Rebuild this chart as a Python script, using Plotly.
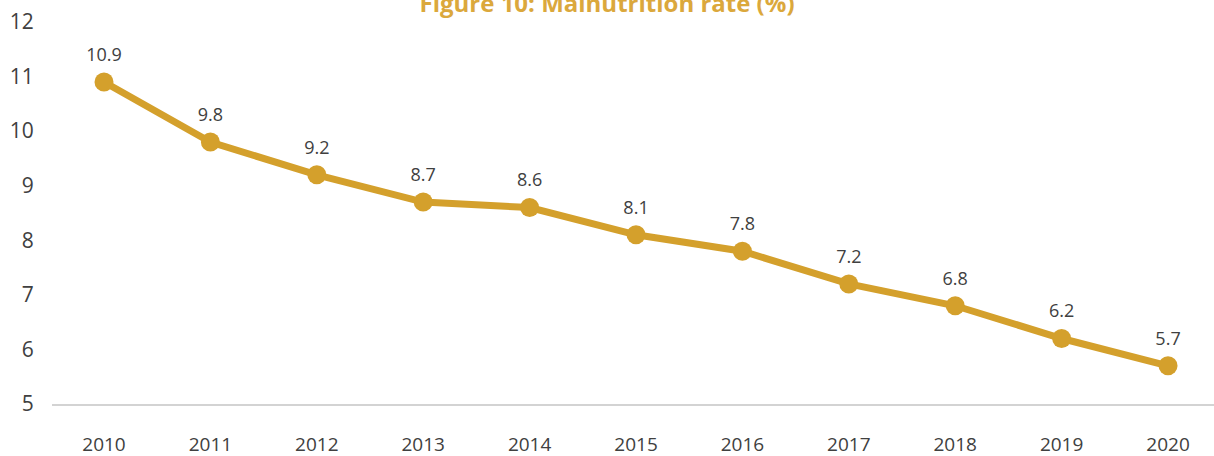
import plotly.graph_objects as go

years = ["2010", "2011", "2012", "2013", "2014", "2015", "2016", "2017", "2018", "2019", "2020"]
rates = [10.9, 9.8, 9.2, 8.7, 8.6, 8.1, 7.8, 7.2, 6.8, 6.2, 5.7]
y_ticks = [5, 6, 7, 8, 9, 10, 11, 12]

xpos = list(range(len(years)))
labels = [f"{v:.1f}" for v in rates]

fig = go.Figure()
fig.add_trace(go.Scatter(
    x=xpos, y=rates, mode="lines+markers",
    line=dict(color="#D4A02C", width=7),
    marker=dict(color="#D4A02C", size=19),
    cliponaxis=False, hoverinfo="skip",
))
fig.add_trace(go.Scatter(
    x=xpos, y=rates, mode="markers+text",
    marker=dict(color="rgba(0,0,0,0)", size=25),
    text=labels, textposition="top center",
    textfont=dict(family="Open Sans", size=18, color="#404040"),
    cliponaxis=False, hoverinfo="skip",
))

fig.update_layout(
    width=1214, height=456,
    margin=dict(l=52, r=0, t=22, b=52, autoexpand=False),
    paper_bgcolor="white", plot_bgcolor="white",
    showlegend=False,
    title=dict(text="<b>Figure 10: Malnutrition rate (%)</b>",
               x=0.5, xanchor="center", y=0.992, yanchor="middle",
               font=dict(family="Open Sans", size=24, color="#DBA83C")),
)
fig.update_xaxes(
    range=[-0.4887, 10.432], tickmode="array", tickvals=xpos, ticktext=years,
    showgrid=False, zeroline=False, showline=True, linecolor="#D3D3D3", linewidth=2,
    ticks="outside", ticklen=22, tickcolor="rgba(0,0,0,0)", automargin=False,
    tickfont=dict(family="Open Sans", size=19, color="#404040"),
)
fig.update_yaxes(
    range=[5, 12], tickmode="array", tickvals=y_ticks,
    showgrid=False, zeroline=False, showline=False,
    ticks="outside", ticklen=13, tickcolor="rgba(0,0,0,0)", automargin=False,
    tickfont=dict(family="Open Sans", size=21, color="#404040"),
)

fig.write_html("out.html", config={"displayModeBar": False},
               post_script="document.body.style.margin='0';document.body.style.overflow='hidden';")
